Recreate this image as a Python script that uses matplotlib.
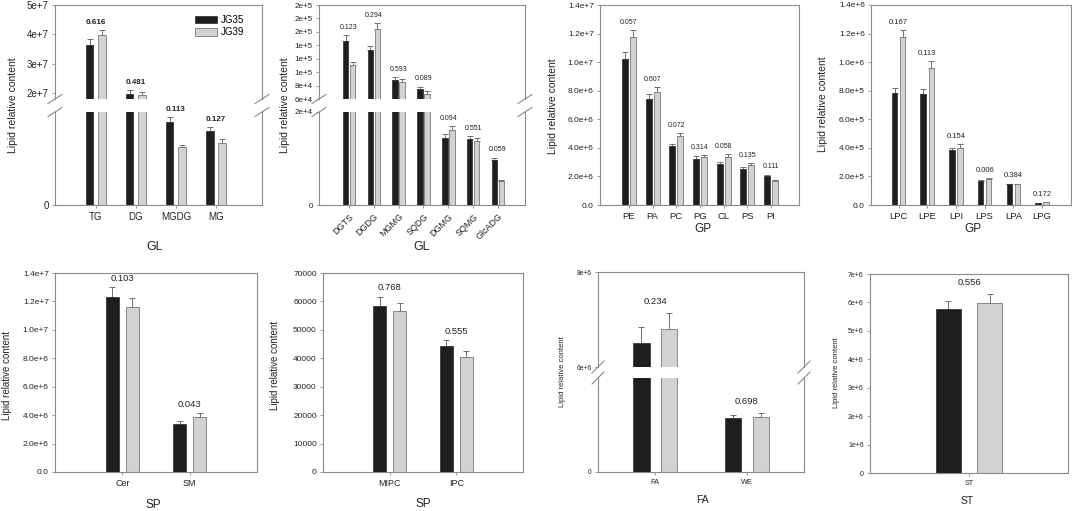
import numpy as np
import matplotlib.pyplot as plt

plt.rcParams['font.family'] = ['Liberation Sans', 'DejaVu Sans']

W, H = 1072, 511

# ---- data ----
gl1_names = ['TG', 'DG', 'MGDG', 'MG']
gl1_jg35 = [3.63e7, 1.98e7, 8.96e6, 8.0e6]
gl1_jg39 = [3.97e7, 1.94e7, 6.2e6, 6.7e6]
gl1_err35 = [2.0e6, 1.1e6, 4.7e5, 3.6e5]
gl1_err39 = [1.8e6, 0.9e6, 2.0e5, 3.6e5]
gl1_p = ['0.616', '0.481', '0.113', '0.127']

gl2_names = ['DGTS', 'DGDG', 'MGMG', 'SQDG', 'DGMG', 'SQMG', 'GlcADG']
gl2_jg35 = [1.47e5, 1.33e5, 8.86e4, 7.5e4, 1.45e4, 1.42e4, 9.7e3]
gl2_jg39 = [1.10e5, 1.65e5, 8.6e4, 6.75e4, 1.61e4, 1.38e4, 5.2e3]
gl2_err35 = [8.0e3, 6.0e3, 4.0e3, 3.5e3, 7.0e2, 7.0e2, 5.0e2]
gl2_err39 = [5.5e3, 8.0e3, 4.5e3, 4.5e3, 9.0e2, 5.5e2, 1.0e2]
gl2_p = ['0.123', '0.294', '0.593', '0.089', '0.094', '0.551', '0.059']

gp1_names = ['PE', 'PA', 'PC', 'PG', 'CL', 'PS', 'PI']
gp1_jg35 = [1.025e7, 7.39e6, 4.10e6, 3.21e6, 2.86e6, 2.51e6, 2.04e6]
gp1_jg39 = [1.173e7, 7.90e6, 4.85e6, 3.36e6, 3.36e6, 2.77e6, 1.69e6]
gp1_err35 = [4.9e5, 3.5e5, 1.9e5, 1.9e5, 1.4e5, 1.4e5, 9.0e4]
gp1_err39 = [5.3e5, 3.8e5, 1.9e5, 1.6e5, 2.1e5, 1.6e5, 3.0e4]
gp1_p = ['0.057', '0.607', '0.072', '0.314', '0.058', '0.135', '0.111']

gp2_names = ['LPC', 'LPE', 'LPI', 'LPS', 'LPA', 'LPG']
gp2_jg35 = [7.81e5, 7.74e5, 3.84e5, 1.70e5, 1.46e5, 1.6e4]
gp2_jg39 = [1.173e6, 9.62e5, 4.00e5, 1.84e5, 1.46e5, 2.1e4]
gp2_err35 = [4.0e4, 4.0e4, 1.6e4, 7.0e3, 4.0e3, 1.0e3]
gp2_err39 = [5.3e4, 4.6e4, 2.4e4, 5.0e3, 3.0e3, 1.0e3]
gp2_p = ['0.167', '0.113', '0.154', '0.006', '0.384', '0.172']

sp1_names = ['Cer', 'SM']
sp1_jg35 = [1.233e7, 3.36e6]
sp1_jg39 = [1.163e7, 3.89e6]
sp1_err35 = [6.6e5, 2.3e5]
sp1_err39 = [5.9e5, 2.4e5]
sp1_p = ['0.103', '0.043']

sp2_names = ['MIPC', 'IPC']
sp2_jg35 = [58500, 44400]
sp2_jg39 = [56700, 40600]
sp2_err35 = [3200, 2000]
sp2_err39 = [2900, 2100]
sp2_p = ['0.768', '0.555']

fa_names = ['FA', 'WE']
fa_jg35 = [6.51e6, 2.89e6]
fa_jg39 = [6.79e6, 2.94e6]
fa_err35 = [3.4e5, 1.4e5]
fa_err39 = [3.4e5, 1.8e5]
fa_p = ['0.234', '0.698']

st_names = ['ST']
st_jg35 = [5.77e6]
st_jg39 = [5.99e6]
st_err35 = [2.8e5]
st_err39 = [3.1e5]
st_p = ['0.556']

DARK = '#1e1e1e'
LIGHT = '#d2d2d2'
FRAME = '#8a8a8a'
ERR = '#6e6e6e'
TXT = '#222222'


def rect(x0, x1, y0, y1):
    return [x0 / W, 1 - y1 / H, (x1 - x0) / W, (y1 - y0) / H]


def sci(v, dec):
    if v == 0:
        return '0' if dec == 0 else '0.' + '0' * dec
    return f'{v:.{dec}e}'.replace('e+0', 'e+')


def style(ax, ysize, xsize):
    for s in ax.spines.values():
        s.set_color(FRAME)
        s.set_linewidth(0.8)
    ax.tick_params(axis='y', length=2.5, width=0.6, color=FRAME, labelsize=ysize, labelcolor=TXT, pad=2)
    ax.tick_params(axis='x', length=2, width=0.6, color=FRAME, labelsize=xsize, labelcolor=TXT, pad=3)


def set_y(ax, lo, hi, ticks, dec=None, plain=False):
    ax.set_ylim(lo, hi)
    ax.set_yticks(ticks)
    if plain:
        ax.set_yticklabels([f'{int(t)}' for t in ticks])
    else:
        ax.set_yticklabels([sci(t, dec) for t in ticks])


def bars(axes, names, v35, v39, e35, e39, width, off, xlim):
    x = np.arange(len(names))
    z = np.zeros(len(x))
    out = None
    for ax in axes:
        b1 = ax.bar(x - off, v35, width, color=DARK, edgecolor='#3a3a3a', linewidth=0.6, zorder=2)
        b2 = ax.bar(x + off, v39, width, color=LIGHT, edgecolor='#7a7a7a', linewidth=0.6, zorder=2)
        ax.errorbar(x - off, v35, yerr=[z, e35], fmt='none', ecolor=ERR, elinewidth=0.7,
                    capsize=2.2, capthick=0.7, zorder=1)
        ax.errorbar(x + off, v39, yerr=[z, e39], fmt='none', ecolor=ERR, elinewidth=0.7,
                    capsize=2.2, capthick=0.7, zorder=1)
        ax.set_xlim(xlim)
        if out is None:
            out = (b1, b2)
    return out


def plabels(axes, v35, v39, e35, e39, pvals, size, bold=False, off=3):
    tops = np.maximum(np.add(v35, e35), np.add(v39, e39))
    for i, (t, p) in enumerate(zip(tops, pvals)):
        ax = axes[0]
        if len(axes) == 2 and t < axes[1].get_ylim()[1]:
            ax = axes[1]
        ax.annotate(p, (i, t), xytext=(0, off), textcoords='offset points', ha='center', va='bottom',
                    fontsize=size, color=TXT, fontweight='bold' if bold else 'normal')


def broken(up, low, dx_px, dy_px):
    up.spines['bottom'].set_visible(False)
    low.spines['top'].set_visible(False)
    up.tick_params(axis='x', bottom=False, labelbottom=False)
    for ax, yy in ((up, 0), (low, 1)):
        bb = ax.get_position()
        dx = dx_px / (bb.width * W)
        dy = dy_px / (bb.height * H)
        for xx in (0, 1):
            ax.plot([xx - dx, xx + dx], [yy - dy, yy + dy], transform=ax.transAxes,
                    color=FRAME, lw=0.8, clip_on=False)


def ftext(x, y, s, size, rot=0):
    fig.text(x / W, 1 - y / H, s, ha='center', va='center', rotation=rot, fontsize=size, color=TXT)


fig = plt.figure(figsize=(W / 100, H / 100), dpi=100)

# ---- panel 1: GL major ----
a1u = fig.add_axes(rect(55, 262, 5, 99))
a1l = fig.add_axes(rect(55, 262, 112, 205))
for ax in (a1u, a1l):
    style(ax, 7, 7)
set_y(a1u, 1.8e7, 5e7, [2e7, 3e7, 4e7, 5e7], 0)
set_y(a1l, 0, 1e7, [0], 0)
h = bars((a1u, a1l), gl1_names, gl1_jg35, gl1_jg39, gl1_err35, gl1_err39, 0.19, 0.156, (-1.02, 4.15))
a1l.set_xticks(range(len(gl1_names)))
a1l.set_xticklabels(gl1_names)
broken(a1u, a1l, 7, 4.5)
plabels((a1u, a1l), gl1_jg35, gl1_jg39, gl1_err35, gl1_err39, gl1_p, 5.8, bold=True)
a1u.legend(h, ['JG35', 'JG39'], loc='upper left', bbox_to_anchor=(195 / W, 1 - 15 / H),
           bbox_transform=fig.transFigure, frameon=False, fontsize=7, handlelength=2.3,
           handleheight=0.75, handletextpad=0.4, labelspacing=0.25, borderpad=0, borderaxespad=0)
ftext(155, 247, 'GL', 9)
ftext(13, 105, 'Lipid relative content', 7.5, 90)

# ---- panel 2: GL minor ----
a2u = fig.add_axes(rect(319, 525, 5, 99))
a2l = fig.add_axes(rect(319, 525, 112, 205))
for ax in (a2u, a2l):
    style(ax, 5.8, 6.5)
set_y(a2u, 6e4, 2e5, np.arange(6e4, 2.01e5, 2e4), 0)
set_y(a2l, 0, 2e4, [0, 2e4], 0)
bars((a2u, a2l), gl2_names, gl2_jg35, gl2_jg39, gl2_err35, gl2_err39, 0.22, 0.14, (-1.21, 7.09))
a2l.set_xticks(range(len(gl2_names)))
a2l.set_xticklabels(gl2_names, rotation=45, ha='right', rotation_mode='anchor')
broken(a2u, a2l, 7, 4.5)
plabels((a2u, a2l), gl2_jg35, gl2_jg39, gl2_err35, gl2_err39, gl2_p, 5)
ftext(422, 247, 'GL', 9)
ftext(285, 105, 'Lipid relative content', 7.5, 90)

# ---- panel 3: GP ----
a3 = fig.add_axes(rect(600, 799, 5, 205))
style(a3, 6, 6.8)
set_y(a3, 0, 1.4e7, np.arange(0, 1.41e7, 2e6), 1)
bars((a3,), gp1_names, gp1_jg35, gp1_jg39, gp1_err35, gp1_err39, 0.25, 0.17, (-1.22, 7.18))
a3.set_xticks(range(len(gp1_names)))
a3.set_xticklabels(gp1_names)
plabels((a3,), gp1_jg35, gp1_jg39, gp1_err35, gp1_err39, gp1_p, 5)
ftext(703, 229, 'GP', 8.5)
ftext(553, 106, 'Lipid relative content', 7.5, 90)

# ---- panel 4: lyso GP ----
a4 = fig.add_axes(rect(871, 1071, 5, 205))
style(a4, 6, 6.8)
set_y(a4, 0, 1.4e6, np.arange(0, 1.41e6, 2e5), 1)
bars((a4,), gp2_names, gp2_jg35, gp2_jg39, gp2_err35, gp2_err39, 0.19, 0.14, (-0.96, 6.01))
a4.set_xticks(range(len(gp2_names)))
a4.set_xticklabels(gp2_names)
plabels((a4,), gp2_jg35, gp2_jg39, gp2_err35, gp2_err39, gp2_p, 5.5)
ftext(973, 229, 'GP', 8.5)
ftext(823, 104, 'Lipid relative content', 7.5, 90)

# ---- panel 5: SP ----
a5 = fig.add_axes(rect(55, 257, 273, 472))
style(a5, 6, 6.5)
set_y(a5, 0, 1.4e7, np.arange(0, 1.41e7, 2e6), 1)
bars((a5,), sp1_names, sp1_jg35, sp1_jg39, sp1_err35, sp1_err39, 0.19, 0.15, (-1, 2))
a5.set_xticks(range(len(sp1_names)))
a5.set_xticklabels(sp1_names)
plabels((a5,), sp1_jg35, sp1_jg39, sp1_err35, sp1_err39, sp1_p, 6.8)
ftext(153, 505, 'SP', 8.5)
ftext(7, 375, 'Lipid relative content', 7, 90)

# ---- panel 6: SP minor ----
a6 = fig.add_axes(rect(323, 523, 273, 472))
style(a6, 6, 6.5)
set_y(a6, 0, 70000, np.arange(0, 70001, 10000), plain=True)
bars((a6,), sp2_names, sp2_jg35, sp2_jg39, sp2_err35, sp2_err39, 0.19, 0.15, (-1, 2))
a6.set_xticks(range(len(sp2_names)))
a6.set_xticklabels(sp2_names)
plabels((a6,), sp2_jg35, sp2_jg39, sp2_err35, sp2_err39, sp2_p, 6.8)
ftext(423, 504, 'SP', 8.5)
ftext(275, 366, 'Lipid relative content', 7, 90)

# ---- panel 7: FA ----
a7u = fig.add_axes(rect(598, 804, 272, 367))
a7l = fig.add_axes(rect(598, 804, 378, 472))
for ax in (a7u, a7l):
    style(ax, 4.8, 5.2)
set_y(a7u, 6e6, 8e6, [6e6, 8e6], 0)
set_y(a7l, 0, 5e6, [0], 0)
bars((a7u, a7l), fa_names, fa_jg35, fa_jg39, fa_err35, fa_err39, 0.18, 0.15, (-0.62, 1.62))
a7l.set_xticks(range(len(fa_names)))
a7l.set_xticklabels(fa_names)
broken(a7u, a7l, 6, 6)
plabels((a7u, a7l), fa_jg35, fa_jg39, fa_err35, fa_err39, fa_p, 6.8, off=5)
ftext(702, 500, 'FA', 7.5)
ftext(563, 372, 'Lipid relative content', 5.5, 90)

# ---- panel 8: ST ----
a8 = fig.add_axes(rect(870, 1068, 274, 473))
style(a8, 5, 5.2)
set_y(a8, 0, 7e6, np.arange(0, 7.01e6, 1e6), 0)
bars((a8,), st_names, st_jg35, st_jg39, st_err35, st_err39, 0.25, 0.21, (-1, 1))
a8.set_xticks(range(len(st_names)))
a8.set_xticklabels(st_names)
plabels((a8,), st_jg35, st_jg39, st_err35, st_err39, st_p, 6.8, off=5)
ftext(967, 501, 'ST', 7.5)
ftext(837, 373, 'Lipid relative content', 5.5, 90)

fig.savefig('out.png', dpi=100)
